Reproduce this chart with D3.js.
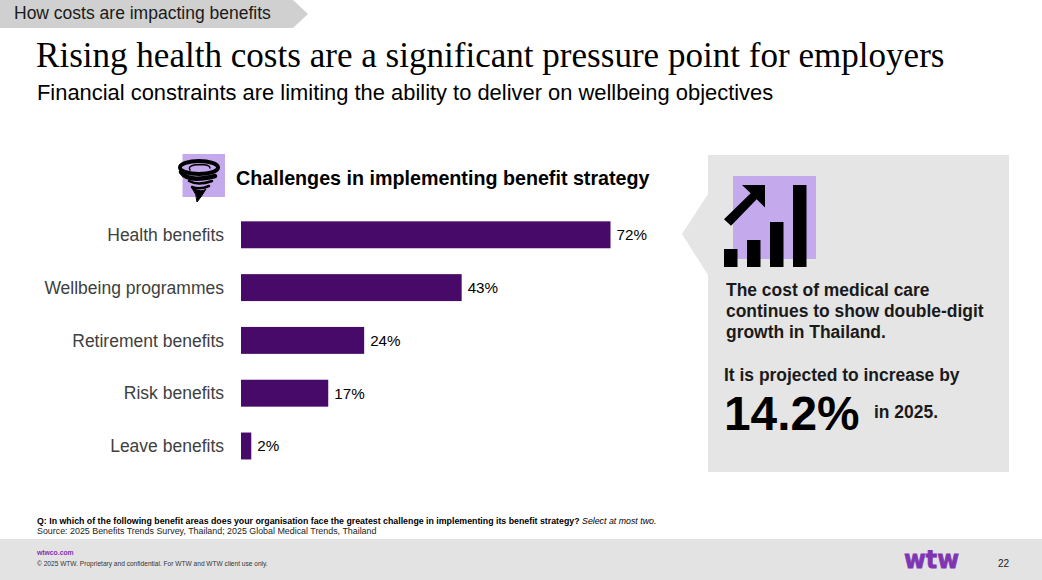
<!DOCTYPE html>
<html>
<head>
<meta charset="utf-8">
<script src="https://cdn.jsdelivr.net/npm/d3@7/dist/d3.min.js"></script>
<style>
html,body{margin:0;padding:0;background:#fff;overflow:hidden}
svg{display:block}
text{font-family:"Liberation Sans",Arial,sans-serif}
</style>
</head>
<body>
<svg id="slide" width="1042" height="580"></svg>
<script>
// Survey results
const categories = ["Health benefits","Wellbeing programmes","Retirement benefits","Risk benefits","Leave benefits"];
const shares = [72,43,24,17,2];
// Rising bars of the cost icon
const costIconBars = [1,2,3,4];
const costIconHeights = [18,27,45,82];

const svg = d3.select("#slide");
const PURPLE = "#470a68", LILAC = "#c4a9ec", TEXT = "#000";

// Section tab
svg.append("path").attr("d","M0 0H293L308 14L293 28H0Z").attr("fill","#d0d0d0");
const put = (x,y,str,size,opt={}) => svg.append("text").attr("x",x).attr("y",y).text(str)
  .attr("font-size",size).attr("fill",opt.fill||TEXT)
  .attr("font-weight",opt.weight||"normal")
  .attr("font-style",opt.style||"normal")
  .attr("text-anchor",opt.anchor||"start");
put(14,19,"How costs are impacting benefits",17.5,{fill:"#1a1a1a"});

// Headline
put(36,67,"Rising health costs are a significant pressure point for employers",35.07)
  .style("font-family",'"Liberation Serif",serif');
put(37,100,"Financial constraints are limiting the ability to deliver on wellbeing objectives",21.9);

// Chart heading and storm icon
svg.append("rect").attr("x",182.5).attr("y",154).attr("width",42.5).attr("height",43).attr("fill",LILAC);
const storm = svg.append("g").attr("fill","none").attr("stroke","#000").attr("stroke-linecap","round");
storm.append("ellipse").attr("cx",199).attr("cy",167.5).attr("rx",19).attr("ry",6.5).attr("stroke-width",4);
storm.append("path").attr("d","M190 170Q187 165 200 164.5Q210 164.5 210 168").attr("stroke-width",1.5);
storm.append("path").attr("d","M181 172Q188 183 215 176").attr("stroke-width",4.5);
storm.append("path").attr("d","M189 181Q198 186 212 181").attr("stroke-width",2.5);
storm.append("path").attr("d","M192 187Q200 190 209 186").attr("stroke-width",2.5);
storm.append("path").attr("fill","#000").attr("stroke-width",1)
  .attr("d","M192 188Q202 193 206 189Q202 196 197 202Q197 194 192 188Z");
put(236,185,"Challenges in implementing benefit strategy",19.7,{weight:"bold"});

// Bars
const x = d3.scaleLinear().domain([0,72]).range([241,610.5]);
const y = d3.scaleBand().domain(categories).range([208.4,472.4]).paddingInner(0.49).paddingOuter(0.245);
const rows = svg.append("g").selectAll("g").data(categories).join("g");
rows.append("rect")
  .attr("x",x(0)).attr("y",d=>y(d))
  .attr("width",(d,i)=>x(shares[i])-x(0)).attr("height",y.bandwidth())
  .attr("fill",PURPLE);
rows.append("text")
  .attr("x",x(0)-17).attr("y",d=>y(d)+y.bandwidth()/2).attr("dy","0.35em")
  .attr("text-anchor","end").attr("font-size",17.5).attr("fill","#404040").text(d=>d);
rows.append("text")
  .attr("x",(d,i)=>x(shares[i])+6).attr("y",d=>y(d)+y.bandwidth()/2).attr("dy","0.35em")
  .attr("font-size",15.2).attr("fill",TEXT).text((d,i)=>shares[i]+"%");

// Callout panel
svg.append("path").attr("d","M708 155H1009V472H708V275L682 234L708 194Z").attr("fill","#e5e5e5");
svg.append("rect").attr("x",733).attr("y",176).attr("width",83).attr("height",83).attr("fill",LILAC);
const iconX = d3.scaleBand().domain(costIconBars).range([724,806.5]).paddingInner(0.413);
const iconY = d3.scaleLinear().domain([0,82]).range([267,185]);
svg.append("g").selectAll("rect").data(costIconBars).join("rect")
  .attr("x",d=>iconX(d)).attr("width",iconX.bandwidth())
  .attr("y",(d,i)=>iconY(costIconHeights[i]))
  .attr("height",(d,i)=>iconY(0)-iconY(costIconHeights[i])).attr("fill","#000");
svg.append("path").attr("fill","#000")
  .attr("d","M742 185H765V207.5L756.7 199.3L731 225.7L724 219.3L750.7 193.3Z");

["The cost of medical care","continues to show double-digit","growth in Thailand."].forEach((s,i)=>
  put(726,295.5+i*21,s,17.45,{weight:"bold",fill:"#1a1a1a"}));
put(724,380.5,"It is projected to increase by",17.45,{weight:"bold",fill:"#1a1a1a"});
put(724,430,"14.2%",47.8,{weight:"bold"});
put(874,418,"in 2025.",17.45,{weight:"bold",fill:"#1a1a1a"});

// Footnotes
const q = put(37,523.5,"",8.8);
q.append("tspan").attr("font-weight","bold").text("Q: In which of the following benefit areas does your organisation face the greatest challenge in implementing its benefit strategy? ");
q.append("tspan").attr("font-style","italic").text("Select at most two.");
put(37,534,"Source: 2025 Benefits Trends Survey, Thailand; 2025 Global Medical Trends, Thailand",8.88,{fill:"#222"});

// Footer band
svg.append("rect").attr("x",0).attr("y",539).attr("width",1042).attr("height",41).attr("fill","#e3e3e3");
put(37,555,"wtwco.com",6.8,{fill:"#7f35b2",weight:"bold"});
put(37,566,"© 2025 WTW. Proprietary and confidential. For WTW and WTW client use only.",6.58,{fill:"#333"});
const logo = put(904,568,"wtw",25,{fill:"#7f35b2",weight:"bold"});
logo.attr("textLength",55).attr("lengthAdjust","spacingAndGlyphs")
  .style("font-family",'"DejaVu Sans",sans-serif').attr("stroke","#7f35b2").attr("stroke-width",0.8);
put(998,567,"22",10,{fill:"#222"});
</script>
</body>
</html>
